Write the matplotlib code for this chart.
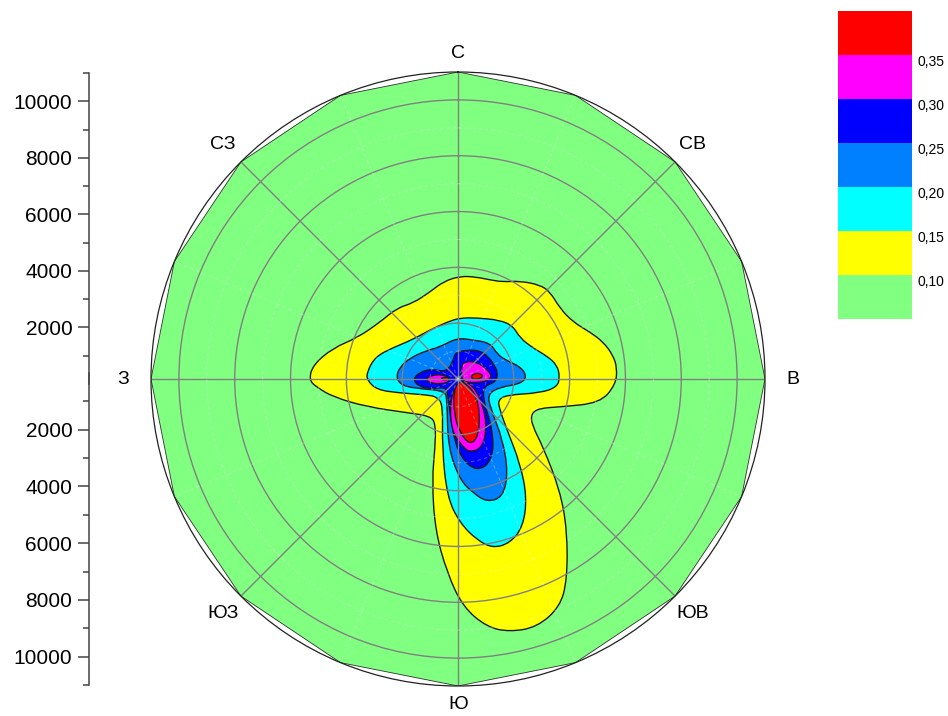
import numpy as np
import matplotlib
matplotlib.use('Agg')
import matplotlib.pyplot as plt
from matplotlib.path import Path
from matplotlib.patches import PathPatch, Polygon
from matplotlib.colors import ListedColormap, BoundaryNorm
from matplotlib.cm import ScalarMappable

plt.rcParams['font.family'] = ['Liberation Sans', 'DejaVu Sans']

# уровни концентрации и цвета заливки между ними
levels = [0.10, 0.15, 0.20, 0.25, 0.30, 0.35]
level_labels = ['0,10', '0,15', '0,20', '0,25', '0,30', '0,35']
fill_colors = ['#80FF80', '#FFFF00', '#00FFFF', '#0080FF', '#0000FF', '#FF00FF', '#FF0000']

directions = ['С', 'СВ', 'В', 'ЮВ', 'Ю', 'ЮЗ', 'З', 'СЗ']
direction_deg = [0, 45, 90, 135, 180, 225, 270, 315]

r_max = 11000          # радиус расчётной области, м
n_rays = 16            # число расчётных румбов
radial_ticks = [2000, 4000, 6000, 8000, 10000]
radial_minor = [1000, 3000, 5000, 7000, 9000, 11000]

# изолинии: (восток, север) от источника, м
iso_010 = [(-5340, -40), (-5200, 500), (-4480, 1110), (-3620, 1470), (-2790, 2040),
           (-2190, 2540), (-1610, 2720), (-1000, 3120), (-540, 3480), (70, 3690),
           (680, 3650), (1150, 3550), (1610, 3480), (2220, 3510), (2940, 3370),
           (3300, 3120), (3650, 2540), (4120, 2040), (4730, 1680), (5200, 1330),
           (5550, 860), (5700, 400), (5650, -200), (5090, -860), (3650, -1000),
           (2900, -1050), (2620, -1250), (2650, -1650), (3050, -2440), (3650, -3980),
           (3910, -5410), (3910, -7200), (3650, -8170), (2830, -8890), (1860, -9060),
           (1040, -8890), (180, -8170), (-390, -6950), (-820, -5410), (-930, -3620),
           (-820, -2440), (-800, -1600), (-1000, -1330), (-1720, -1220), (-3260, -1000),
           (-4480, -640), (-5050, -300)]

iso_015 = [(-3260, -40), (-3260, 250), (-2970, 790), (-2360, 1110), (-1650, 1400),
           (-1000, 1760), (-390, 2040), (70, 2190), (680, 2190), (1500, 2110),
           (1970, 1900), (2220, 1470), (2690, 1110), (3190, 820), (3550, 500),
           (3650, 70), (3550, -290), (2940, -500), (1760, -570), (1430, -750),
           (1500, -1110), (1760, -1830), (2220, -3010), (2470, -4230), (2330, -5300),
           (1860, -5880), (1250, -6060), (680, -5770), (70, -5160), (-390, -4230),
           (-570, -2440), (-540, -930), (-750, -640), (-1110, -570), (-2080, -500),
           (-2900, -390)]

iso_020 = [(-2220, 70), (-2080, 430), (-1720, 750), (-1180, 1000), (-640, 1150),
           (-40, 1470), (540, 1400), (1150, 1290), (1400, 900), (1700, 680),
           (2260, 430), (2470, 70), (2220, -180), (1500, -290), (1070, -540),
           (1150, -1000), (1610, -2190), (1790, -3370), (1610, -4230), (1040, -4410),
           (540, -4080), (70, -3620), (-360, -2440), (-390, -750), (-470, -430),
           (-1250, -360), (-2010, -250)]

iso_025 = [(-1610, 0), (-1360, 250), (-930, 360), (-430, 250), (-180, 610),
           (-110, 950), (320, 1040), (790, 1020), (1080, 800), (1250, 570),
           (1430, 250), (1360, -110), (930, -250), (900, -750), (1250, -1830),
           (1250, -2900), (680, -3330), (70, -2790), (-210, -1830), (-360, -570),
           (-430, -290), (-1000, -360), (-1430, -250)]

iso_030_w = [(-1180, 0), (-930, 140), (-570, 160), (-320, 60), (-320, -110),
             (-640, -180), (-1000, -140)]
iso_030_ne = [(110, 430), (250, 640), (720, 600), (1070, 320), (1220, 70),
              (970, -110), (360, -140), (140, -40)]
iso_030_s = [(60, -60), (-280, -640), (-250, -1830), (140, -2400), (430, -2640),
             (900, -2440), (1040, -1580), (790, -640), (430, -140)]

iso_035_w = [(-640, 10), (-450, 80), (-280, 20), (-450, -50)]
iso_035_ne = [(430, 70), (600, 210), (840, 190), (900, 70), (650, -30)]
iso_035_s = [(40, -80), (-150, -390), (-150, -1220), (70, -1930), (430, -2360),
             (720, -2080), (790, -1220), (610, -500), (250, -140)]

regions = [(iso_010, 1), (iso_015, 2), (iso_020, 3), (iso_025, 4),
           (iso_030_w, 5), (iso_030_ne, 5), (iso_030_s, 5),
           (iso_035_w, 6), (iso_035_ne, 6), (iso_035_s, 6)]


def smooth_path(points):
    # замкнутая кривая: считанные точки служат опорными для квадратичных кривых Безье
    p = np.array(points, dtype=float)
    mid = (p + np.roll(p, -1, axis=0)) / 2
    verts = [mid[-1]]
    codes = [Path.MOVETO]
    for i in range(len(p)):
        verts += [p[i], mid[i]]
        codes += [Path.CURVE3, Path.CURVE3]
    return Path(verts, codes)


fig = plt.figure(figsize=(9.48, 7.16), dpi=100)
box = [151 / 948, 30 / 716, 614 / 948, 614 / 716]

# поле концентраций
ax_map = fig.add_axes(box, zorder=1)
ax_map.set_xlim(-r_max, r_max)
ax_map.set_ylim(-r_max, r_max)
ax_map.axis('off')

ang = np.deg2rad(np.arange(n_rays) * 360 / n_rays)
ax_map.add_patch(Polygon(np.column_stack([r_max * np.sin(ang), r_max * np.cos(ang)]),
                         closed=True, facecolor=fill_colors[0], edgecolor='#303030', lw=0.6))
for pts, idx in regions:
    ax_map.add_patch(PathPatch(smooth_path(pts), facecolor=fill_colors[idx],
                               edgecolor='#1a1a1a', lw=1.0))

# полярная сетка поверх
ax = fig.add_axes(box, projection='polar', zorder=2)
ax.set_facecolor('none')
ax.set_theta_zero_location('N')
ax.set_theta_direction(-1)
ax.set_ylim(0, r_max)
ax.set_yticks(radial_ticks)
ax.set_yticklabels([])
ax.set_xticks(np.deg2rad(direction_deg))
ax.set_xticklabels([])
ax.grid(color='#808080', lw=1.0)
ax.spines['polar'].set_color('#222222')
ax.spines['polar'].set_linewidth(0.9)

th = np.linspace(0, 2 * np.pi, 361)
for r in radial_minor[:-1]:
    ax.plot(th, np.full_like(th, r), color='white', alpha=0.3, lw=0.8, ls=(0, (3, 3)))
for d in np.arange(22.5, 360, 45):
    ax.plot([np.deg2rad(d)] * 2, [0, r_max], color='white', alpha=0.3, lw=0.8, ls=(0, (3, 3)))

for name, d in zip(directions, direction_deg):
    t = np.deg2rad(d)
    ax.text(t, 11650 + 350 * abs(np.sin(t)), name, ha='center', va='center', fontsize=14)

# радиальная шкала слева: верхняя и нижняя половины
def radial_scale(rect, invert):
    a = fig.add_axes(rect)
    a.set_ylim(0, r_max)
    if invert:
        a.invert_yaxis()
    for s in ['top', 'right', 'bottom']:
        a.spines[s].set_visible(False)
    a.spines['left'].set_color('#444444')
    a.spines['left'].set_linewidth(1.1)
    a.patch.set_visible(False)
    a.set_xticks([])
    a.set_yticks(radial_ticks)
    a.set_yticks(radial_minor, minor=True)
    a.tick_params(axis='y', which='major', length=8, width=1.1, color='#444444',
                  labelsize=15, pad=4)
    a.tick_params(axis='y', which='minor', length=4.3, width=1.1, color='#444444')
    return a

radial_scale([89 / 948, (716 - 384) / 716, 0.02, 311 / 716], False)
radial_scale([89 / 948, (716 - 685) / 716, 0.02, 312 / 716], True)

# шкала цветов
cax = fig.add_axes([838 / 948, (716 - 319) / 716, 74 / 948, 308 / 716])
cmap = ListedColormap(fill_colors)
norm = BoundaryNorm([0.05] + levels + [0.40], cmap.N)
cb = fig.colorbar(ScalarMappable(norm=norm, cmap=cmap), cax=cax, ticks=levels)
cb.outline.set_visible(False)
cb.ax.minorticks_off()
cb.ax.set_yticklabels(level_labels)
cb.ax.tick_params(which='both', length=0, labelsize=10, pad=4)
for t in cb.ax.get_yticklabels():
    t.set_verticalalignment('top')

fig.savefig('out.png', dpi=100)
